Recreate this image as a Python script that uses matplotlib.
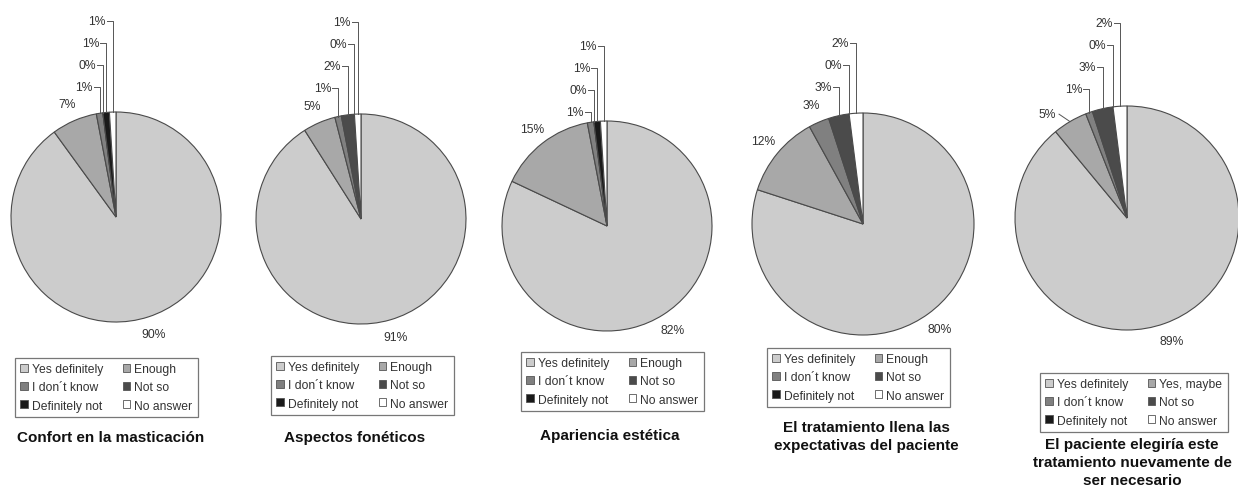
import numpy as np
import matplotlib
matplotlib.use("Agg")
import matplotlib.pyplot as plt
from matplotlib.patches import Patch

plt.rcParams['font.family'] = ['Liberation Sans', 'DejaVu Sans']

# ---- data -------------------------------------------------------------
titles = [
    "Confort en la masticación",
    "Aspectos fonéticos",
    "Apariencia estética",
    "El tratamiento llena las\nexpectativas del paciente",
    "El paciente elegiría este\ntratamiento nuevamente de\nser necesario",
]
categories = ["Yes definitely", "Enough", "I don´t know", "Not so",
              "Definitely not", "No answer"]
categories_last = ["Yes definitely", "Yes, maybe", "I don´t know", "Not so",
                   "Definitely not", "No answer"]

confort = [90, 7, 1, 0, 1, 1]
foneticos = [91, 5, 1, 2, 0, 1]
estetica = [82, 15, 1, 0, 1, 1]
expectativas = [80, 12, 3, 3, 0, 2]
elegiria = [89, 5, 1, 3, 0, 2]
series = [confort, foneticos, estetica, expectativas, elegiria]

colors = ["#cccccc", "#a8a8a8", "#808080", "#4b4b4b", "#1a1a1a", "#ffffff"]

# ---- layout (pixel space) ----------------------------------------------
W, H = 1238, 489
centers = [(116, 218), (361, 220), (607, 227), (863, 225), (1127, 219)]
radii = [105, 105, 105, 111, 112]
stack_from = [2, 2, 2, 3, 2]          # first slice whose label is stacked above the pie
stack_base = [88, 89, 113, 88, 90]    # y of the lowest stacked label
stack_gap = 22
side_shift = [0, 0, 0, 0, 7]          # extra angle (deg) for the second label
side_leader = [False, False, False, False, True]
legend_pos = [(15, 359), (271, 357), (521, 353), (767, 349), (1040, 374)]
title_pos = [(111, 438), (355, 438), (610, 436), (866, 437), (1132, 463)]

LABEL_FS = 8.7
fig = plt.figure(figsize=(W / 100, H / 100), dpi=100)
ax = fig.add_axes([0, 0, 1, 1])


def Y(y):
    return H - y


line_col = "#555555"
text_col = "#333333"

for i, vals in enumerate(series):
    cx, cy = centers[i]
    r = radii[i]
    ax.pie(vals, colors=colors, startangle=90, counterclock=False,
           center=(cx, Y(cy)), radius=r, frame=True,
           wedgeprops=dict(edgecolor="#4a4a4a", linewidth=0.8))

    total = float(sum(vals))
    cum = 0.0
    for j, v in enumerate(vals):
        mid = cum + v / 2.0
        cum += v
        a = 2 * np.pi * mid / total
        lab = f"{v}%"
        if j < stack_from[i]:
            extra = np.deg2rad(side_shift[i]) if j == 1 else 0.0
            aa = a - extra
            d = 1.17 * r
            tx, ty = cx + d * np.sin(aa), Y(cy) + d * np.cos(aa)
            ax.text(tx, ty, lab, ha="center", va="center", fontsize=LABEL_FS,
                    color=text_col)
            if j == 1 and side_leader[i]:
                ex, ey = cx + r * np.sin(a), Y(cy) + r * np.cos(a)
                ax.plot([tx + 12, ex], [ty, ey], color=line_col, lw=0.7)
        else:
            k = j - stack_from[i]
            ly = Y(stack_base[i] - k * stack_gap)
            ex, ey = cx + r * np.sin(a), Y(cy) + r * np.cos(a)
            ax.plot([ex - 6, ex, ex], [ly, ly, ey], color=line_col, lw=0.7)
            ax.text(ex - 7, ly, lab, ha="right", va="center",
                    fontsize=LABEL_FS, color=text_col)

    # legend, filled row by row in two columns
    names = categories_last if i == 4 else categories
    order = [0, 2, 4, 1, 3, 5]
    handles = [Patch(facecolor=colors[o], edgecolor="#555555", linewidth=0.6)
               for o in order]
    labels = [names[o] for o in order]
    lx, ly = legend_pos[i]
    leg = fig.legend(handles, labels, loc="upper left",
                     bbox_to_anchor=(lx / W, 1 - ly / H),
                     bbox_transform=fig.transFigure, ncol=2, fontsize=LABEL_FS,
                     frameon=True, fancybox=False, borderaxespad=0,
                     handlelength=0.6, handleheight=0.6, handletextpad=0.35,
                     columnspacing=1.6, labelspacing=0.5, borderpad=0.45)
    leg.get_frame().set_edgecolor("#555555")
    leg.get_frame().set_linewidth(0.9)
    for t in leg.get_texts():
        t.set_color(text_col)

    tx, ty = title_pos[i]
    ax.text(tx, Y(ty), titles[i], ha="center", va="center", fontsize=11,
            fontweight="bold", color="#111111", linespacing=1.4)

ax.set_xlim(0, W)
ax.set_ylim(0, H)
ax.set_aspect("equal")
ax.axis("off")

fig.savefig("out.png", dpi=100, facecolor="white")
